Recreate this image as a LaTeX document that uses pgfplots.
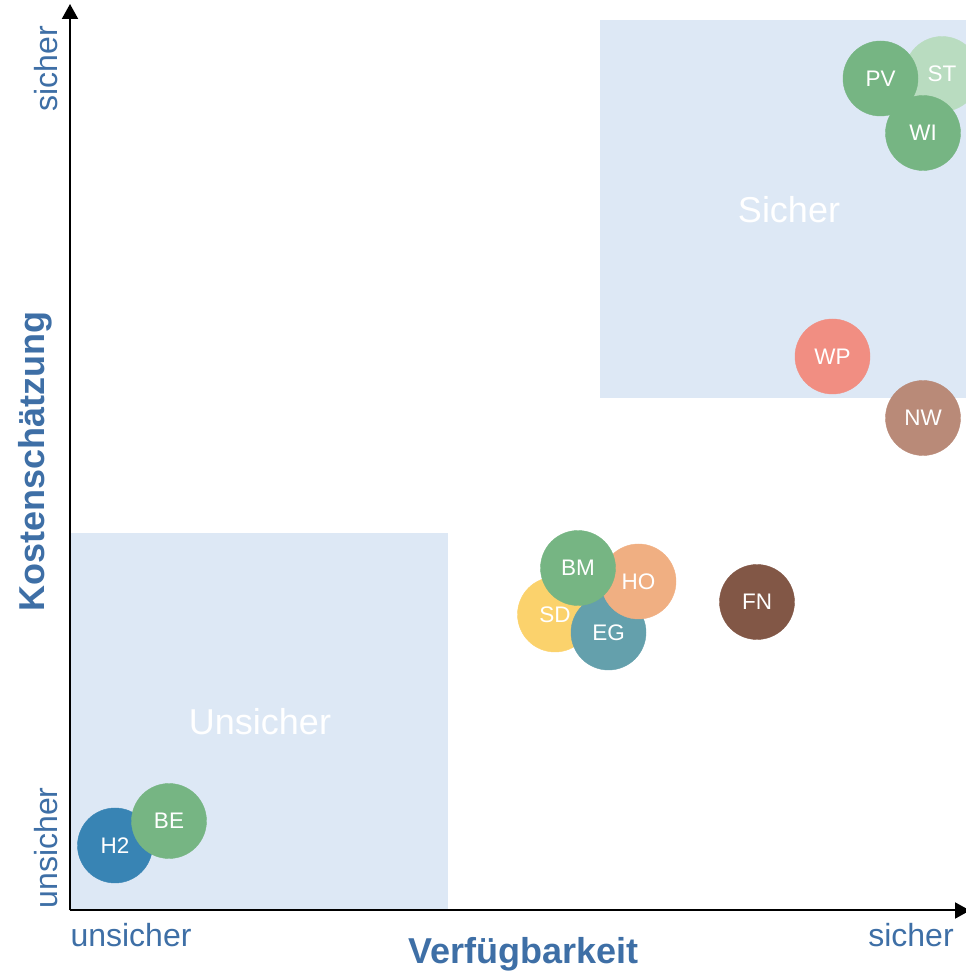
\documentclass[border=0pt]{standalone}
\usepackage{pgfplots}
\pgfplotsset{compat=1.18}
\usepackage{fontspec}
\setmainfont{Liberation Sans}
\usetikzlibrary{arrows.meta}
\definecolor{boxblue}{HTML}{DDE8F5}
\definecolor{labelblue}{HTML}{3E6FA6}
\definecolor{cgreen}{HTML}{76B583}
\definecolor{clightgreen}{HTML}{B9DCC0}
\definecolor{csalmon}{HTML}{F18E82}
\definecolor{cnw}{HTML}{B98A78}
\definecolor{cho}{HTML}{F0AF82}
\definecolor{csd}{HTML}{FBD26C}
\definecolor{ceg}{HTML}{64A0AC}
\definecolor{cfn}{HTML}{825746}
\definecolor{chtwo}{HTML}{3884B4}
\newcommand{\bubble}[4]{\addplot[only marks, mark=*, mark size=37.5pt, color=#1,
  nodes near coords={#4},
  every node near coord/.append style={anchor=center, text=white, font=\fontsize{22.5}{27}\selectfont}]
  coordinates {(#2,#3)};}
\begin{document}
\begin{tikzpicture}
\useasboundingbox (0,0) rectangle (966pt,972pt);
\begin{axis}[
  at={(70pt,61.5pt)}, anchor=south west,
  scale only axis, width=900pt, height=906.5pt,
  xmin=70, xmax=970, ymin=61.5, ymax=968,
  enlargelimits=false,
  axis lines=left,
  axis line style={line width=2pt, -{Triangle[length=15pt,width=16pt]}},
  axis on top,
  xtick={131,911}, xticklabels={unsicher,sicher},
  ytick={124,903}, yticklabels={unsicher,sicher},
  major tick length=0pt,
  tick label style={font=\fontsize{32}{38}\selectfont, text=labelblue},
  xticklabel style={anchor=north},
  xticklabel shift=9.5pt,
  yticklabel style={rotate=90, anchor=south},
  yticklabel shift=8.7pt,
  xlabel={Verfügbarkeit}, ylabel={Kostenschätzung},
  label style={font=\bfseries\fontsize{36}{43}\selectfont, text=labelblue},
  xlabel style={at={(axis description cs:0.5039,0)}, anchor=north, yshift=-23pt},
  ylabel style={at={(axis description cs:-0.0156,0.495)}, anchor=south},
]
\addplot[fill=boxblue, draw=none] coordinates {(600,952) (980,952) (980,574) (600,574)} -- cycle;
\addplot[fill=boxblue, draw=none] coordinates {(70,439) (448,439) (448,61.5) (70,61.5)} -- cycle;
\node[text=white, font=\fontsize{36}{43}\selectfont] at (axis cs:789,762) {Sicher};
\node[text=white, font=\fontsize{36}{43}\selectfont] at (axis cs:260,250) {Unsicher};
\bubble{chtwo}{115}{126.5}{H2}
\bubble{cgreen}{169}{151}{BE}
\bubble{csd}{555}{357.5}{SD}
\bubble{ceg}{608.5}{339.5}{EG}
\bubble{cho}{638.5}{390.5}{HO}
\bubble{cgreen}{578}{404}{BM}
\bubble{cfn}{757}{370}{FN}
\bubble{csalmon}{832.5}{615.5}{WP}
\bubble{cnw}{923}{554}{NW}
\bubble{clightgreen}{942}{898}{ST}
\bubble{cgreen}{880.5}{893.5}{PV}
\bubble{cgreen}{923}{839}{WI}
\end{axis}
\end{tikzpicture}
\end{document}
